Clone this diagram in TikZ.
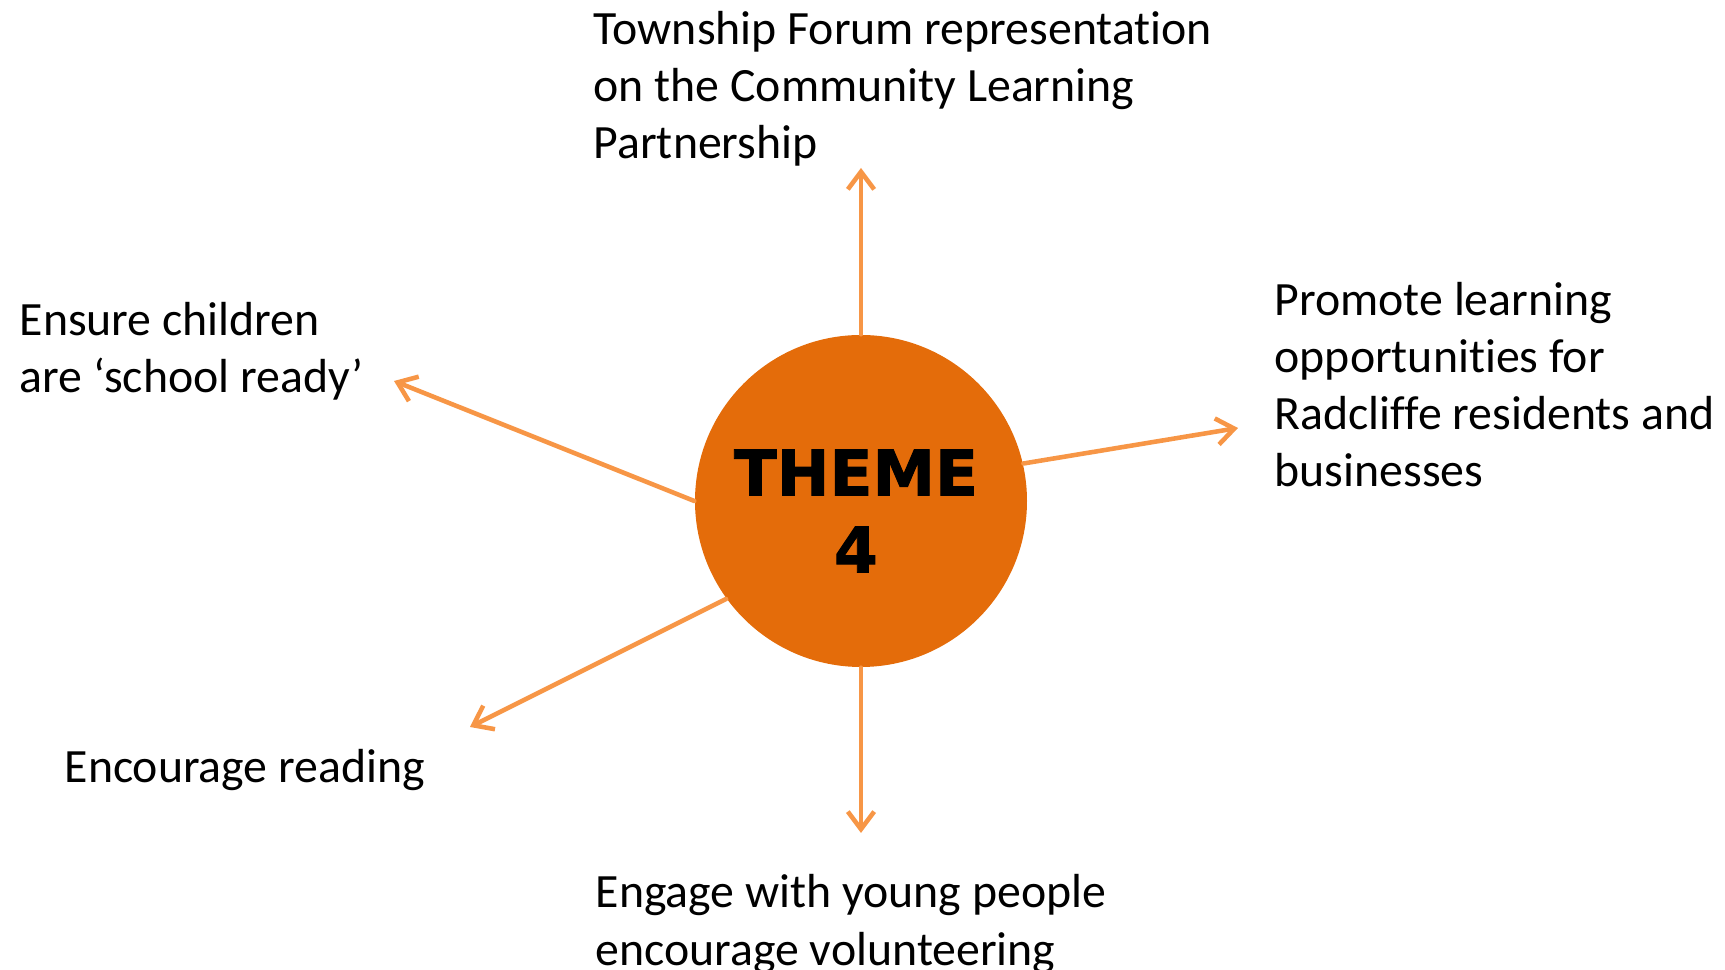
\documentclass[tikz,border=0pt]{standalone}
\usepackage{fontspec}
\setmainfont[Ligatures=NoCommon]{Carlito}
\newfontfamily\themefont[BoldFeatures={FakeBold=1.5}]{DejaVu Sans}
\usetikzlibrary{arrows.meta}
\definecolor{hubfill}{HTML}{E46C0A}
\definecolor{spoke}{HTML}{F79646}

\begin{document}
\begin{tikzpicture}[
  hub/.style={circle,fill=hubfill,minimum size=3.32cm,inner sep=0pt,align=center,font=\themefont\bfseries\fontsize{17.9}{21.9}\selectfont},
  arr/.style={-{Straight Barb[length=5pt,width=7.5pt]},line width=1.3pt,line cap=round,draw=spoke},
  ann/.style={anchor=base west,align=left,inner sep=0pt,font=\fontsize{13.6}{16.3}\selectfont}
]
\useasboundingbox (0,0) rectangle (17.25,9.70);
\node[hub] (theme) at (8.61,4.69) {\rule{0pt}{6.6mm}THEME\hspace*{1mm}\\4\hspace*{1mm}};
% goals round the hub (placed at the baseline of their last line)
\node[ann] (forum)   at (5.93,8.113) {Township Forum representation\\on the Community Learning\\Partnership};
\node[ann] (promote) at (12.74,4.831) {Promote learning\\opportunities for\\Radcliffe residents and\\businesses};
\node[ann] (school)  at (0.19,5.775) {Ensure children\\are `school ready'};
\node[ann] (reading) at (0.64,1.87) {Encourage reading};
\node[ann] (young)   at (5.95,0.048) {Engage with young people\\encourage volunteering};
% arrow tips
\coordinate (forumtip)   at (8.61,8.02);
\coordinate (promotetip) at (12.38,5.42);
\coordinate (schooltip)  at (3.94,5.89);
\coordinate (readingtip) at (4.70,2.43);
\coordinate (youngtip)   at (8.61,1.37);
\draw[arr] (theme.north) -- (forumtip);
\draw[arr] (theme.13)    -- (promotetip);
\draw[arr] (theme.west)  -- (schooltip);
\draw[arr] (theme.216.5) -- (readingtip);
\draw[arr] (theme.south) -- (youngtip);
\end{tikzpicture}
\end{document}
